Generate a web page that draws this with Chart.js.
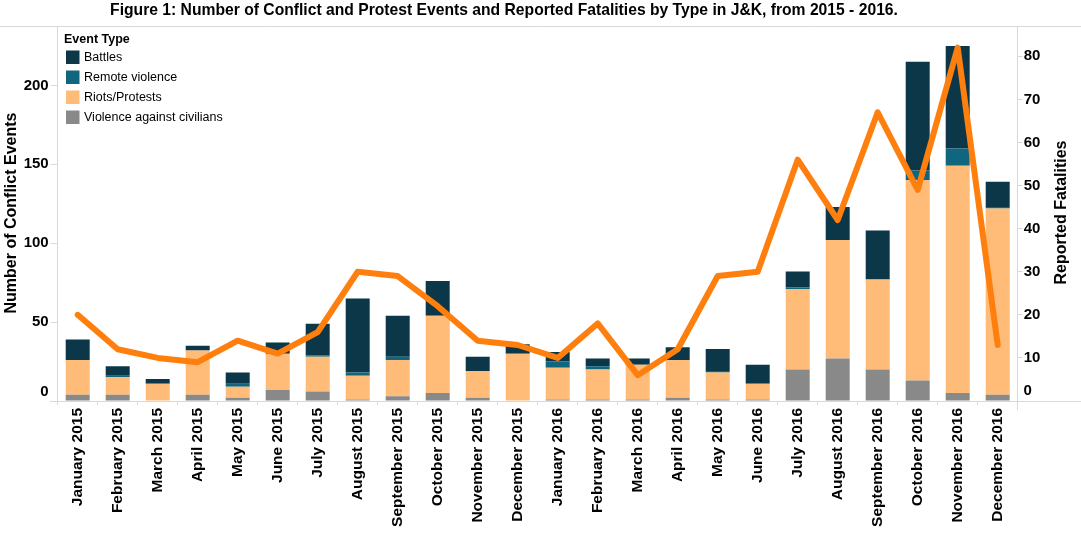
<!DOCTYPE html>
<html>
<head>
<meta charset="utf-8">
<script src="https://cdn.jsdelivr.net/npm/chart.js@4/dist/chart.umd.min.js"></script>
<style>
  html, body { margin: 0; padding: 0; background: #fff; }
  #wrap { width: 1081px; height: 549px; }
</style>
</head>
<body>
<div id="wrap"><canvas id="c" width="1081" height="549"></canvas></div>
<script>
const months = ["January 2015","February 2015","March 2015","April 2015","May 2015","June 2015","July 2015","August 2015","September 2015","October 2015","November 2015","December 2015","January 2016","February 2016","March 2016","April 2016","May 2016","June 2016","July 2016","August 2016","September 2016","October 2016","November 2016","December 2016"];
const violenceAgainstCivilians = [4,4,0,4,2,7,6,1,3,5,2,0,1,1,1,2,1,1,20,27,20,13,5,4];
const riotsProtests = [22,11,11,28,7,23,22,15,23,49,17,30,20,19,22,24,17,10,51,75,57,127,144,118];
const remoteViolence = [0,1,0,0,2,0,1,2,2,0,0,0,4,2,0,0,1,0,1,0,0,6,11,1];
const battles = [13,6,3,3,7,7,20,47,26,22,9,6,6,5,4,8,14,12,10,21,31,69,65,16];
const reportedFatalities = [20,12,10,9,14,11,16,30,29,22,14,13,10,18,6,12,29,30,56,42,67,49,82,13];
const leftTicks = [0,50,100,150,200];
const rightTicks = [0,10,20,30,40,50,60,70,80];

const titleText = "Figure 1: Number of Conflict and Protest Events and Reported Fatalities by Type in J&K, from 2015 - 2016.";
const legendTitle = "Event Type";
const leftTitle = "Number of Conflict Events";
const rightTitle = "Reported Fatalities";

const COLORS = {
  battles: '#0b3748',
  remote: '#11667f',
  riots: '#ffbb78',
  civ: '#898989',
  line: '#ff7f0e',
  axis: '#d9d9d9'
};
const FONT = '"Liberation Sans", Arial, sans-serif';

const decor = {
  id: 'decor',
  afterDraw(chart) {
    const ctx = chart.ctx;
    ctx.save();
    // title
    ctx.fillStyle = '#000';
    ctx.textAlign = 'center';
    ctx.textBaseline = 'middle';
    ctx.font = 'bold 15px ' + FONT;
    const w = ctx.measureText(titleText).width;
    const fs = 15 * 788 / w;
    ctx.font = 'bold ' + fs.toFixed(2) + 'px ' + FONT;
    ctx.fillText(titleText, 504, 11);
    // separator line
    ctx.strokeStyle = COLORS.axis;
    ctx.lineWidth = 1;
    ctx.beginPath();
    ctx.moveTo(0, 26.5); ctx.lineTo(1081, 26.5);
    ctx.stroke();
    // bottom axis extension
    ctx.beginPath();
    ctx.moveTo(50, 401.5); ctx.lineTo(1081, 401.5);
    ctx.stroke();
    // right axis extension
    ctx.beginPath();
    ctx.moveTo(1017.5, 26); ctx.lineTo(1017.5, 410);
    ctx.stroke();

    // legend
    ctx.textAlign = 'left';
    ctx.font = 'bold 12.5px ' + FONT;
    ctx.fillStyle = '#000';
    ctx.fillText(legendTitle, 64, 40);
    const items = [
      [chart.data.datasets[3].label, chart.data.datasets[3].backgroundColor],
      [chart.data.datasets[2].label, chart.data.datasets[2].backgroundColor],
      [chart.data.datasets[1].label, chart.data.datasets[1].backgroundColor],
      [chart.data.datasets[0].label, chart.data.datasets[0].backgroundColor]
    ];
    ctx.font = '12.5px ' + FONT;
    items.forEach((it, i) => {
      const cy = 57 + i * 20;
      ctx.fillStyle = it[1];
      ctx.fillRect(66, cy - 6.5, 13.5, 13.5);
      ctx.fillStyle = '#000';
      ctx.fillText(it[0], 84, cy + 0.5);
    });

    // axis titles
    ctx.font = 'bold 16px ' + FONT;
    ctx.textAlign = 'center';
    ctx.save();
    ctx.translate(12, 213);
    ctx.rotate(-Math.PI / 2);
    ctx.fillText(leftTitle, 0, 0);
    ctx.restore();
    ctx.save();
    ctx.translate(1062, 212.5);
    ctx.rotate(-Math.PI / 2);
    ctx.fillText(rightTitle, 0, 0);
    ctx.restore();

    // zero labels (shifted up as in reference)
    ctx.font = 'bold 15px ' + FONT;
    ctx.textAlign = 'right';
    ctx.fillText('0', 48.5, 391.5);
    ctx.textAlign = 'left';
    ctx.fillText('0', 1023.5, 391);
    ctx.restore();
  }
};

const ctx = document.getElementById('c').getContext('2d');
new Chart(ctx, {
  data: {
    labels: months,
    datasets: [
      { type: 'bar', label: 'Violence against civilians', data: violenceAgainstCivilians, backgroundColor: COLORS.civ, yAxisID: 'y', order: 1, stack: 's' },
      { type: 'bar', label: 'Riots/Protests', data: riotsProtests, backgroundColor: COLORS.riots, yAxisID: 'y', order: 1, stack: 's' },
      { type: 'bar', label: 'Remote violence', data: remoteViolence, backgroundColor: COLORS.remote, yAxisID: 'y', order: 1, stack: 's' },
      { type: 'bar', label: 'Battles', data: battles, backgroundColor: COLORS.battles, yAxisID: 'y', order: 1, stack: 's' },
      { type: 'line', label: 'Reported Fatalities', data: reportedFatalities, borderColor: COLORS.line, backgroundColor: COLORS.line, borderWidth: 6, borderJoinStyle: 'round', borderCapStyle: 'round', pointRadius: 0, tension: 0, yAxisID: 'y1', order: 0, fill: false }
    ]
  },
  options: {
    responsive: false,
    animation: false,
    devicePixelRatio: 1,
    layout: { padding: { top: 27, left: 0, right: 0, bottom: 0 } },
    datasets: { bar: { categoryPercentage: 1.0, barPercentage: 0.6 } },
    plugins: {
      legend: { display: false },
      title: { display: false },
      tooltip: { enabled: false }
    },
    scales: {
      x: {
        stacked: true,
        grid: { display: true, drawOnChartArea: false, drawTicks: true, tickLength: 4, color: COLORS.axis, offset: true },
        border: { display: true, color: COLORS.axis },
        ticks: { color: '#000', font: { family: FONT, size: 15.5, weight: 'bold' }, minRotation: 90, maxRotation: 90, autoSkip: false, padding: 3 },
        afterFit(s) { s.height = 148; }
      },
      y: {
        position: 'left',
        stacked: true,
        min: 0, max: 237,
        afterBuildTicks(s) { s.ticks = leftTicks.map(v => ({ value: v })); },
        grid: { display: true, drawOnChartArea: false, drawTicks: true, tickLength: 7, color: COLORS.axis },
        border: { display: true, color: COLORS.axis },
        ticks: { color: '#000', font: { family: FONT, size: 15, weight: 'bold' }, padding: 2, callback: v => v === 0 ? '' : String(v) },
        afterFit(s) { s.width = 57.7; }
      },
      y1: {
        position: 'right',
        stacked: false,
        min: 0, max: 86.8,
        afterBuildTicks(s) { s.ticks = rightTicks.map(v => ({ value: v })); },
        grid: { display: true, drawOnChartArea: false, drawTicks: true, tickLength: 5, color: COLORS.axis },
        border: { display: true, color: COLORS.axis },
        ticks: { color: '#000', font: { family: FONT, size: 15, weight: 'bold' }, padding: 1, callback: v => v === 0 ? '' : String(v) },
        afterFit(s) { s.width = 63.3; }
      }
    }
  },
  plugins: [decor]
});
</script>
</body>
</html>
